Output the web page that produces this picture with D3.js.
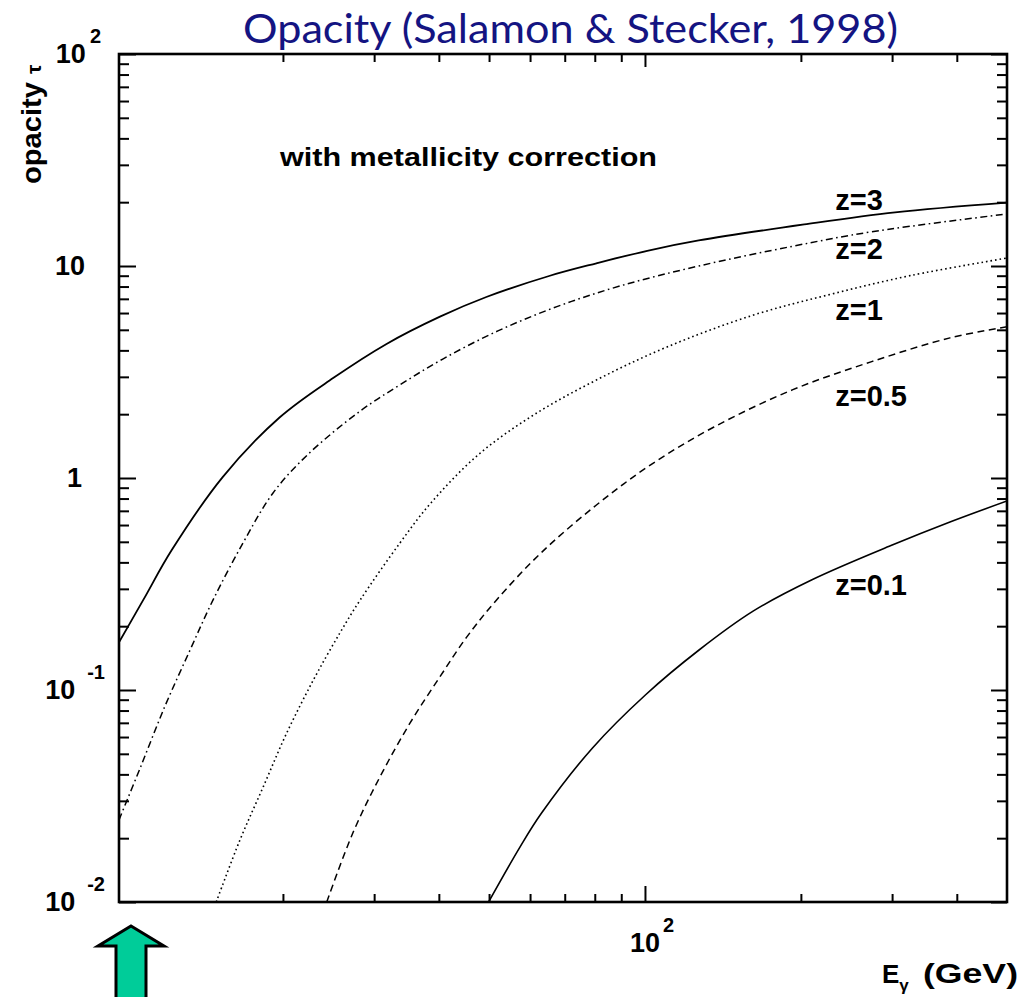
<!DOCTYPE html>
<html>
<head>
<meta charset="utf-8">
<script src="https://cdn.jsdelivr.net/npm/d3@7"></script>
<style>
  html, body { margin: 0; padding: 0; background: #ffffff; }
  svg { display: block; }
</style>
</head>
<body>
<svg id="chart" width="1034" height="997"></svg>
<script>
// Gamma-ray opacity tau versus photon energy (GeV) for five source redshifts.
const redshiftLabels = ["z=3", "z=2", "z=1", "z=0.5", "z=0.1"];

const energyZ3 = [9.65, 10.75, 12.2, 15.3, 19.7, 25.0, 31.7, 40.2, 49.4, 65.3, 80.6, 101, 127, 203, 304, 500];
const tauZ3    = [0.168, 0.266, 0.457, 1.01, 1.93, 2.96, 4.29, 5.77, 7.14, 8.97, 10.3, 11.8, 13.2, 15.7, 17.9, 19.9];

const energyZ2 = [9.65, 10.6, 11.84, 13.23, 14.66, 16.75, 19.14, 22.26, 28.2, 33.65, 40.7, 52.0, 67.6, 89.5, 127, 193, 274, 500];
const tauZ2    = [0.0244, 0.0428, 0.084, 0.154, 0.266, 0.494, 0.85, 1.28, 2.07, 2.75, 3.64, 4.94, 6.43, 8.05, 10.0, 12.4, 14.5, 17.6];

const energyZ1 = [14.87, 16.52, 18.33, 20.34, 22.9, 25.77, 28.2, 33.65, 38.6, 47.7, 60.9, 80.6, 110.3, 162, 229.6, 326, 500];
const tauZ1    = [0.01, 0.0196, 0.035, 0.0627, 0.1115, 0.186, 0.266, 0.494, 0.762, 1.29, 1.98, 2.90, 4.15, 5.87, 7.38, 9.02, 10.9];

const energyZ05 = [24.3, 27.3, 30.8, 35.2, 40.2, 45.3, 51.7, 63.1, 80.6, 102.9, 135.9, 193, 274, 388, 500];
const tauZ05    = [0.01, 0.0212, 0.039, 0.0699, 0.1155, 0.178, 0.266, 0.445, 0.746, 1.16, 1.74, 2.61, 3.54, 4.58, 5.17];

const energyZ01 = [49.9, 57.4, 63.1, 79.2, 100.3, 127, 162, 210.6, 298.5, 388, 500];
const tauZ01    = [0.01, 0.0182, 0.0262, 0.0533, 0.095, 0.154, 0.236, 0.332, 0.48, 0.62, 0.779];

// Axis ticks and their labels
const xMajorTicks = [100];
const xMinorTicks = [20, 30, 40, 50, 60, 70, 80, 90, 200, 300, 400];
const xTickLabels = [["10", "2"]];
const yMajorTicks = [0.01, 0.1, 1, 10, 100];
const yMinorTicks = [0.01, 0.1, 1, 10].flatMap(d => [2, 3, 4, 5, 6, 7, 8, 9].map(k => d * k));
const yTickLabels = [["10", "-2"], ["10", "-1"], ["1", ""], ["10", ""], ["10", "2"]];

// ---------------------------------------------------------------------------
const svg = d3.select("#chart");
const L = 119, R = 1007, T = 54, B = 902;
const FONT = "'Liberation Sans', Arial, Helvetica, sans-serif";

const x = d3.scaleLog().domain([9.65, 500]).range([L, R]);
const y = d3.scaleLog().domain([0.01, 100]).range([B, T]);

// Title
svg.append("text")
  .attr("x", 243).attr("y", 43)
  .attr("font-family", "Lato, 'Open Sans', sans-serif")
  .attr("font-size", 40)
  .attr("fill", "#141482")
  .attr("textLength", 655).attr("lengthAdjust", "spacingAndGlyphs")
  .text("Opacity (Salamon & Stecker, 1998)");

// Tick marks drawn inward on all four sides
function tickAxis(axisFn, scale, values, size, transform) {
  const g = svg.append("g")
    .attr("transform", transform)
    .call(axisFn(scale).tickValues(values).tickSize(size).tickFormat(""));
  g.select(".domain").remove();
  g.selectAll(".tick line").attr("stroke", "#000").attr("stroke-width", 2);
  return g;
}
tickAxis(d3.axisBottom, x, xMajorTicks, -16, `translate(0,${B})`);
tickAxis(d3.axisBottom, x, xMinorTicks, -8, `translate(0,${B})`);
tickAxis(d3.axisTop, x, xMajorTicks, -13, `translate(0,${T})`);
tickAxis(d3.axisTop, x, xMinorTicks, -8, `translate(0,${T})`);
tickAxis(d3.axisLeft, y, yMajorTicks, -17, `translate(${L},0)`);
tickAxis(d3.axisLeft, y, yMinorTicks, -10, `translate(${L},0)`);
tickAxis(d3.axisRight, y, yMajorTicks, -16, `translate(${R},0)`);
tickAxis(d3.axisRight, y, yMinorTicks, -10, `translate(${R},0)`);

// Plot frame
svg.append("rect")
  .attr("x", L).attr("y", T).attr("width", R - L).attr("height", B - T)
  .attr("fill", "none").attr("stroke", "#000").attr("stroke-width", 2.6);

// Curves
svg.append("clipPath").attr("id", "plotClip")
  .append("rect").attr("x", L).attr("y", T).attr("width", R - L).attr("height", B - T);

const curves = [
  { e: energyZ3,  t: tauZ3,  dash: null,            w: 1.8 },
  { e: energyZ2,  t: tauZ2,  dash: "7,3.5,1.6,3.5", w: 1.5 },
  { e: energyZ1,  t: tauZ1,  dash: "1.6,3",         w: 1.6 },
  { e: energyZ05, t: tauZ05, dash: "7,4.5",         w: 1.5 },
  { e: energyZ01, t: tauZ01, dash: null,            w: 1.6 }
];
const line = d3.line()
  .x(d => x(d[0]))
  .y(d => y(d[1]))
  .curve(d3.curveCatmullRom.alpha(0.5));

const plot = svg.append("g").attr("clip-path", "url(#plotClip)");
curves.forEach(c => {
  plot.append("path")
    .datum(d3.zip(c.e, c.t))
    .attr("d", line)
    .attr("fill", "none")
    .attr("stroke", "#000")
    .attr("stroke-width", c.w)
    .attr("stroke-dasharray", c.dash)
    .attr("stroke-linejoin", "round");
});

// Curve labels, placed in data coordinates
const labelEnergy = 233;
const labelTau = [18.4, 10.8, 5.56, 2.19, 0.282];
redshiftLabels.forEach((lab, i) => {
  svg.append("text")
    .attr("x", x(labelEnergy)).attr("y", y(labelTau[i]))
    .attr("font-family", FONT).attr("font-weight", "bold").attr("font-size", 29)
    .text(lab);
});

// Annotation inside the frame
svg.append("text")
  .attr("x", 280).attr("y", 166)
  .attr("font-family", FONT).attr("font-weight", "bold").attr("font-size", 26)
  .attr("textLength", 377).attr("lengthAdjust", "spacingAndGlyphs")
  .text("with metallicity correction");

// Y tick labels
yMajorTicks.forEach((v, i) => {
  const [base, exp] = yTickLabels[i];
  const t = svg.append("text")
    .attr("y", y(v) + 9)
    .attr("font-family", FONT).attr("font-weight", "bold").attr("font-size", 27)
    .attr("text-anchor", "end");
  if (exp) {
    const neg = exp.startsWith("-");
    t.attr("x", neg ? 105 : 101);
    t.append("tspan").text(base);
    t.append("tspan").attr("dx", neg ? 12 : 4).attr("dy", -20).attr("font-size", 20).text(exp);
  } else {
    t.attr("x", base === "1" ? 82 : 85).text(base);
  }
});

// X tick labels
xMajorTicks.forEach((v, i) => {
  const [base, exp] = xTickLabels[i];
  const t = svg.append("text")
    .attr("x", x(v) - 15).attr("y", 952)
    .attr("font-family", FONT).attr("font-weight", "bold").attr("font-size", 27);
  t.append("tspan").text(base);
  t.append("tspan").attr("dx", 3).attr("dy", -20).attr("font-size", 20).text(exp);
});

// Axis titles
const xt = svg.append("text")
  .attr("x", 882).attr("y", 983)
  .attr("font-family", FONT).attr("font-weight", "bold").attr("font-size", 26);
xt.append("tspan").text("E");
xt.append("tspan").attr("dy", 8).attr("font-size", 17).text("γ");
svg.append("text")
  .attr("x", 923).attr("y", 983)
  .attr("font-family", FONT).attr("font-weight", "bold").attr("font-size", 27)
  .attr("textLength", 95).attr("lengthAdjust", "spacingAndGlyphs")
  .text("(GeV)");

const yt = svg.append("text")
  .attr("transform", "translate(41,184) rotate(-90)")
  .attr("font-family", FONT).attr("font-weight", "bold").attr("font-size", 28);
yt.append("tspan").attr("textLength", 102).attr("lengthAdjust", "spacingAndGlyphs").text("opacity");
yt.append("tspan").attr("dx", 8).attr("font-size", 21).text("τ");

// Upward block arrow below the axis
const arrow = d3.path();
arrow.moveTo(131, 926);
arrow.lineTo(164, 946);
arrow.lineTo(146, 946);
arrow.lineTo(146, 1002);
arrow.lineTo(116, 1002);
arrow.lineTo(116, 946);
arrow.lineTo(98, 946);
arrow.closePath();
svg.append("path")
  .attr("d", arrow.toString())
  .attr("fill", "#00cc99")
  .attr("stroke", "#000")
  .attr("stroke-width", 3)
  .attr("stroke-linejoin", "miter");
</script>
</body>
</html>
